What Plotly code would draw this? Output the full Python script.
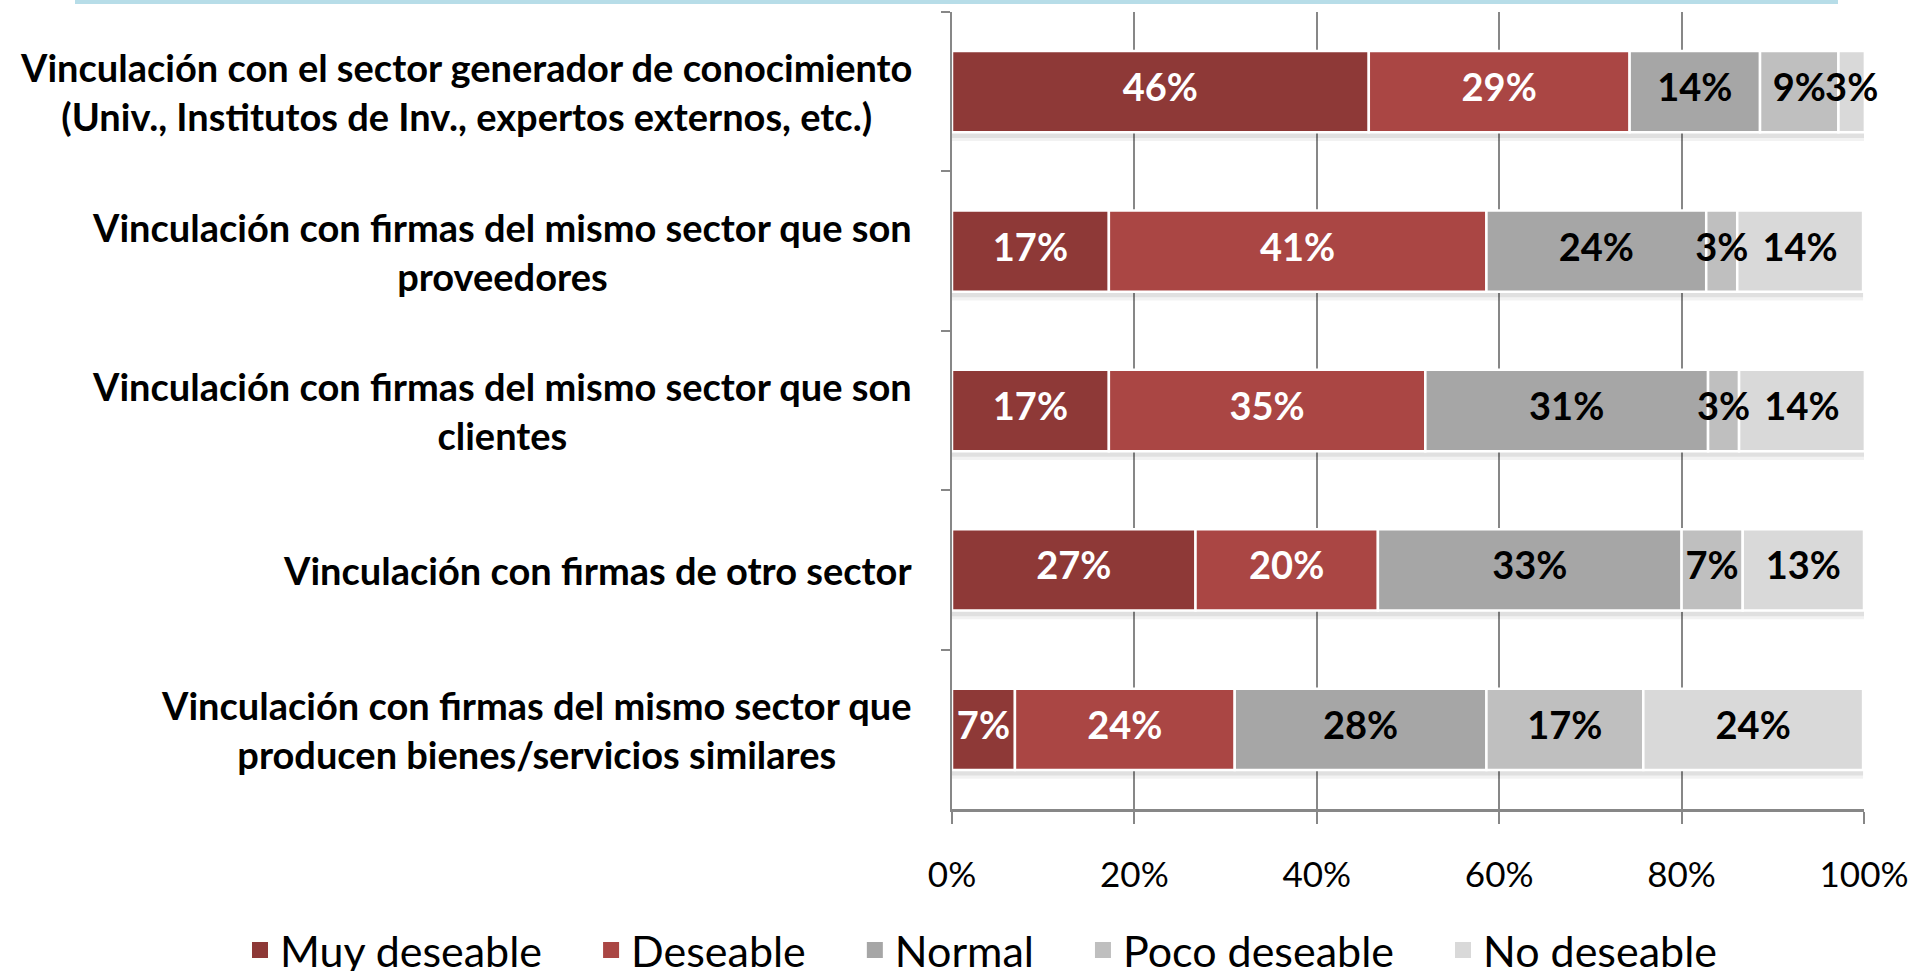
import plotly.graph_objects as go

categories = [
    "Vinculación con el sector generador de conocimiento<br>(Univ., Institutos de Inv., expertos externos, etc.)",
    "Vinculación con firmas del mismo sector que son<br>proveedores",
    "Vinculación con firmas del mismo sector que son<br>clientes",
    "Vinculación con firmas de otro sector",
    "Vinculación con firmas del mismo sector que<br>producen bienes/servicios similares",
]
series_names = ["Muy deseable", "Deseable", "Normal", "Poco deseable", "No deseable"]
muy_deseable = [0.457, 0.172, 0.172, 0.267, 0.069]
deseable = [0.286, 0.414, 0.347, 0.200, 0.241]
normal = [0.143, 0.241, 0.310, 0.333, 0.276]
poco_deseable = [0.086, 0.034, 0.034, 0.067, 0.172]
no_deseable = [0.029, 0.138, 0.138, 0.133, 0.241]
colors = ["#8e3937", "#aa4644", "#a6a6a6", "#bfbfbf", "#d9d9d9"]
text_colors = ["white", "white", "black", "black", "black"]
x_ticks = [0, 0.2, 0.4, 0.6, 0.8, 1.0]

values = [muy_deseable, deseable, normal, poco_deseable, no_deseable]

W, H = 1911, 971
L, R, T, B = 952, 47, 12, 162
pw = W - L - R
ph = H - T - B

LABEL_SIZE = 38
PAD = "\u00a0" * 4
BAR_W = 0.51

totals = [sum(col) for col in zip(*values)]

fig = go.Figure()
# soft drop shadow beneath each stacked bar
for off, alpha in [(0.055, 0.05), (0.035, 0.07)]:
    fig.add_trace(go.Bar(
        y=categories, x=totals, orientation="h", showlegend=False, hoverinfo="skip",
        width=BAR_W, offset=-BAR_W / 2 + off,
        marker=dict(color=f"rgba(0,0,0,{alpha})", line=dict(width=0)),
    ))

bases = [0.0] * len(categories)
label_traces = []
for name, vals, col, tc in zip(series_names, values, colors, text_colors):
    fig.add_trace(go.Bar(
        y=categories, x=vals, base=list(bases), name=name, orientation="h",
        showlegend=False, hoverinfo="skip", width=BAR_W, offset=-BAR_W / 2,
        marker=dict(color=col, line=dict(color="white", width=2.5)),
    ))
    mids = [b + v / 2 for b, v in zip(bases, vals)]
    label_traces.append(go.Scatter(
        x=mids, y=categories, mode="text", showlegend=False, hoverinfo="skip",
        text=[f"{round(v * 100):.0f}%" for v in vals],
        textposition="middle center",
        textfont=dict(family="Lato", size=LABEL_SIZE, color=tc, weight="bold"),
        cliponaxis=False,
    ))
    bases = [b + v for b, v in zip(bases, vals)]
for tr in label_traces:
    fig.add_trace(tr)
# legend entries with larger square swatches
for name, col in zip(series_names, colors):
    fig.add_trace(go.Scatter(
        x=[None], y=[None], mode="markers", name=name + PAD,
        marker=dict(symbol="square", size=16, color=col),
    ))

ann = []
for c in categories:
    ann.append(dict(
        x=(914 - L) / pw, xref="paper", y=c, yref="y",
        text=c, showarrow=False, xanchor="right", yanchor="middle", align="center",
        font=dict(family="Lato", size=38, color="black", weight="bold"),
    ))

fig.update_layout(
    width=W, height=H,
    margin=dict(l=L, r=R, t=T, b=B, autoexpand=False),
    barmode="overlay",
    plot_bgcolor="white", paper_bgcolor="white",
    annotations=ann,
    xaxis=dict(
        range=[0, 1], tickvals=x_ticks, tickformat=".0%",
        showgrid=True, gridcolor="#878787", gridwidth=2,
        showline=True, linecolor="#878787", linewidth=3,
        ticks="outside", ticklen=12, tickcolor="#878787", tickwidth=2,
        tickfont=dict(family="Lato", size=35, color="black"),
        ticklabelstandoff=21, zeroline=False,
    ),
    yaxis=dict(
        autorange="reversed", showticklabels=False,
        showline=True, linecolor="#878787", linewidth=2,
        ticks="outside", tickson="boundaries", ticklen=9, tickcolor="#878787", tickwidth=2,
        showgrid=False, zeroline=False,
    ),
    legend=dict(
        orientation="h", xref="paper", yref="paper",
        x=(240 - L) / pw, xanchor="left", y=-(950 - (H - B)) / ph, yanchor="middle",
        font=dict(family="Lato", size=43, color="black"),
        traceorder="normal", itemwidth=30,
    ),
    shapes=[dict(
        type="rect", xref="paper", yref="paper",
        x0=(75 - L) / pw, x1=(1838 - L) / pw,
        y0=1 + (T - 4) / ph, y1=1 + T / ph,
        fillcolor="#b7dde8", line=dict(width=0), layer="above",
    )],
)

fig.write_html(
    "out.html",
    config={"displayModeBar": False},
    post_script="document.body.style.margin='0';document.body.style.overflow='hidden';",
)
